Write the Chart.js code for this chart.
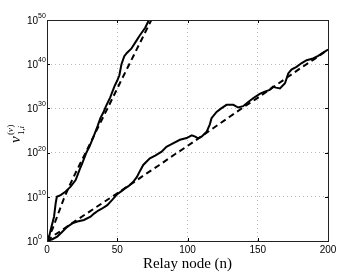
<!DOCTYPE html>
<html><head><meta charset="utf-8">
<script src="https://cdn.jsdelivr.net/npm/chart.js@4.4.0/dist/chart.umd.min.js"></script>
<style>html,body{margin:0;padding:0;background:#fff}canvas{display:block}</style>
</head><body>
<canvas id="c" width="362" height="272"></canvas>
<script>
// Tick labels
const xTicks = [0, 50, 100, 150, 200];
const yTickExps = [0, 10, 20, 30, 40, 50];
const xTitle = 'Relay node (n)';

// Values are log10 of nu (the axis is logarithmic 10^0 .. 10^50)
// Fast-growing pair, simulated (solid)
const fastSimN   = [0, 1, 2.6, 5, 6.2, 7, 9.7, 13.3, 16.8, 20.4, 23, 25, 28, 30, 33, 36, 38, 40, 42, 45, 48, 50, 51.5, 53, 55, 57, 60, 63, 66, 70, 73, 74];
const fastSimLog = [0, 0.3, 2.5, 5.5, 8.6, 10, 10.4, 11.2, 12.3, 13.8, 16, 17.5, 20, 21.2, 23.5, 26, 27.8, 29, 30.5, 32.5, 35, 36.3, 37.5, 40, 41.8, 42.6, 43.5, 45, 46.5, 48.3, 50.3, 51];
// Fast-growing pair, analytical (dashed)
const fastAnaN   = [0, 4, 8, 12, 16, 20, 28, 36, 44, 52, 60, 68, 76];
const fastAnaLog = [0, 2.8, 6.2, 9.6, 12.5, 15.2, 20.3, 25.5, 30.6, 35.8, 40.9, 46, 51.1];
// Slow-growing pair, simulated (solid)
const slowSimN   = [0, 3.8, 7.3, 10.9, 14.4, 18, 21.6, 26.3, 31, 33.5, 36.5, 39, 42.9, 46.4, 50, 53.5, 55.5, 58, 61.4, 64, 66.1, 68.5, 73.2, 77, 81.6, 85, 89, 94.6, 99.4, 103, 105.5, 107.6, 110, 113.6, 115.9, 117.1, 120.7, 124, 127.8, 132.6, 136.1, 139.6, 143, 146.7, 151.4, 155, 158.5, 160.9, 163, 165.8, 169.4, 171.7, 174, 177.6, 181, 184.8, 189.4, 193, 196, 200];
const slowSimLog = [0, 0.4, 1, 2.1, 3.2, 4, 4.4, 4.75, 5.5, 6.2, 6.9, 7.3, 8.1, 9.3, 10.6, 11.4, 11.9, 12.4, 13.4, 14.5, 15.8, 17.2, 18.7, 19.3, 20.2, 21.3, 22, 22.9, 23.3, 23.9, 23.6, 23.2, 23.6, 24.7, 26.4, 27.8, 29.2, 30, 30.8, 30.8, 30.2, 30.5, 31.4, 32.3, 33.3, 33.8, 34.2, 34.9, 34.7, 34.5, 35.7, 37.9, 38.8, 39.4, 40.2, 40.9, 41.3, 41.9, 42.5, 43.3];
// Slow-growing pair, analytical (dashed)
const slowAnaN   = [0, 5, 10, 20, 30, 40, 50, 60, 70, 80, 90, 100, 110, 120, 130, 140, 150, 160, 170, 180, 190, 200];
const slowAnaLog = [0, 1.3, 2.3, 4.5, 6.6, 8.7, 10.8, 12.9, 15.1, 17.2, 19.4, 21.5, 23.7, 25.9, 28.1, 30.3, 32.4, 34.6, 36.8, 39, 41.1, 43.3];

const pts = (xs, ys) => xs.map((x, i) => ({x: x, y: ys[i]}));
const solid = (xs, ys) => ({data: pts(xs, ys), borderColor: '#000', borderWidth: 2, pointRadius: 0, showLine: true, tension: 0, clip: 0});
const dashed = (xs, ys) => Object.assign(solid(xs, ys), {borderDash: [6, 4]});

const SUP = {'0':'\u2070','1':'\u00b9','2':'\u00b2','3':'\u00b3','4':'\u2074','5':'\u2075','6':'\u2076','7':'\u2077','8':'\u2078','9':'\u2079'};

const decor = {
  id: 'decor',
  afterDraw(chart) {
    const ctx = chart.ctx, a = chart.chartArea, xs = chart.scales.x, ys = chart.scales.y;
    ctx.save();
    // ticks inward
    ctx.strokeStyle = '#000'; ctx.lineWidth = 1;
    ctx.beginPath();
    xTicks.forEach(v => { const px = Math.round(xs.getPixelForValue(v)) + 0.5;
      ctx.moveTo(px, a.bottom); ctx.lineTo(px, a.bottom - 3);
      ctx.moveTo(px, a.top); ctx.lineTo(px, a.top + 3); });
    yTickExps.forEach(v => { const py = Math.round(ys.getPixelForValue(v)) + 0.5;
      ctx.moveTo(a.left, py); ctx.lineTo(a.left + 3, py);
      ctx.moveTo(a.right, py); ctx.lineTo(a.right - 3, py); });
    ctx.stroke();
    // box
    ctx.strokeStyle = '#222';
    ctx.strokeRect(Math.round(a.left) + 0.5, Math.round(a.top) + 0.5, Math.round(a.right - a.left), Math.round(a.bottom - a.top));
    // x tick labels
    ctx.fillStyle = '#000';
    ctx.font = '10px "Liberation Sans", Arial, sans-serif';
    ctx.textAlign = 'center'; ctx.textBaseline = 'top';
    xTicks.forEach(v => ctx.fillText(String(v), xs.getPixelForValue(v), a.bottom + 4));
    // y tick labels: 10 with exponent
    yTickExps.forEach(v => {
      const py = ys.getPixelForValue(v);
      ctx.font = '10px "Liberation Sans", Arial, sans-serif';
      ctx.textAlign = 'right'; ctx.textBaseline = 'middle';
      ctx.fillText('10', a.left - 9, py + 1);
      ctx.font = '7px "Liberation Sans", Arial, sans-serif';
      ctx.textAlign = 'left'; ctx.textBaseline = 'alphabetic';
      ctx.fillText(String(v), a.left - 9, py - 2);
    });
    // x title
    ctx.font = '15px "Liberation Serif", "Times New Roman", serif';
    ctx.textAlign = 'center'; ctx.textBaseline = 'alphabetic';
    ctx.fillText(xTitle, (a.left + a.right) / 2, 268);
    // y title: nu_{1,i}^{(v)}
    ctx.translate(20, 143); ctx.rotate(-Math.PI / 2);
    ctx.textAlign = 'left'; ctx.textBaseline = 'alphabetic';
    ctx.font = 'italic 15px "Liberation Serif", serif';
    ctx.fillText('\u03bd', 0, 0);
    ctx.font = '9px "Liberation Serif", serif';
    ctx.fillText('(', 8, -7);
    ctx.font = 'italic 9px "Liberation Serif", serif';
    ctx.fillText('v', 11, -7);
    ctx.font = '9px "Liberation Serif", serif';
    ctx.fillText(')', 15.5, -7);
    ctx.fillText('1,', 8, 4);
    ctx.font = 'italic 9px "Liberation Serif", serif';
    ctx.fillText('i', 14.5, 4);
    ctx.restore();
  }
};

new Chart(document.getElementById('c'), {
  type: 'scatter',
  data: { datasets: [
    solid(fastSimN, fastSimLog),
    dashed(fastAnaN, fastAnaLog),
    solid(slowSimN, slowSimLog),
    dashed(slowAnaN, slowAnaLog)
  ]},
  options: {
    responsive: false, animation: false, devicePixelRatio: 1,
    layout: { padding: { left: 47, right: 34, top: 20, bottom: 31 } },
    plugins: { legend: { display: false }, tooltip: { enabled: false } },
    scales: {
      x: { type: 'linear', min: 0, max: 200,
        afterBuildTicks: s => { s.ticks = xTicks.map(v => ({value: v})); },
        ticks: { display: false },
        grid: { color: '#bbb', drawTicks: false, lineWidth: 1 },
        border: { display: false, dash: [1, 3] } },
      y: { type: 'linear', min: 0, max: 50,
        afterBuildTicks: s => { s.ticks = yTickExps.map(v => ({value: v})); },
        ticks: { display: false },
        grid: { color: '#bbb', drawTicks: false, lineWidth: 1 },
        border: { display: false, dash: [1, 3] } }
    }
  },
  plugins: [decor]
});
</script>
</body></html>
